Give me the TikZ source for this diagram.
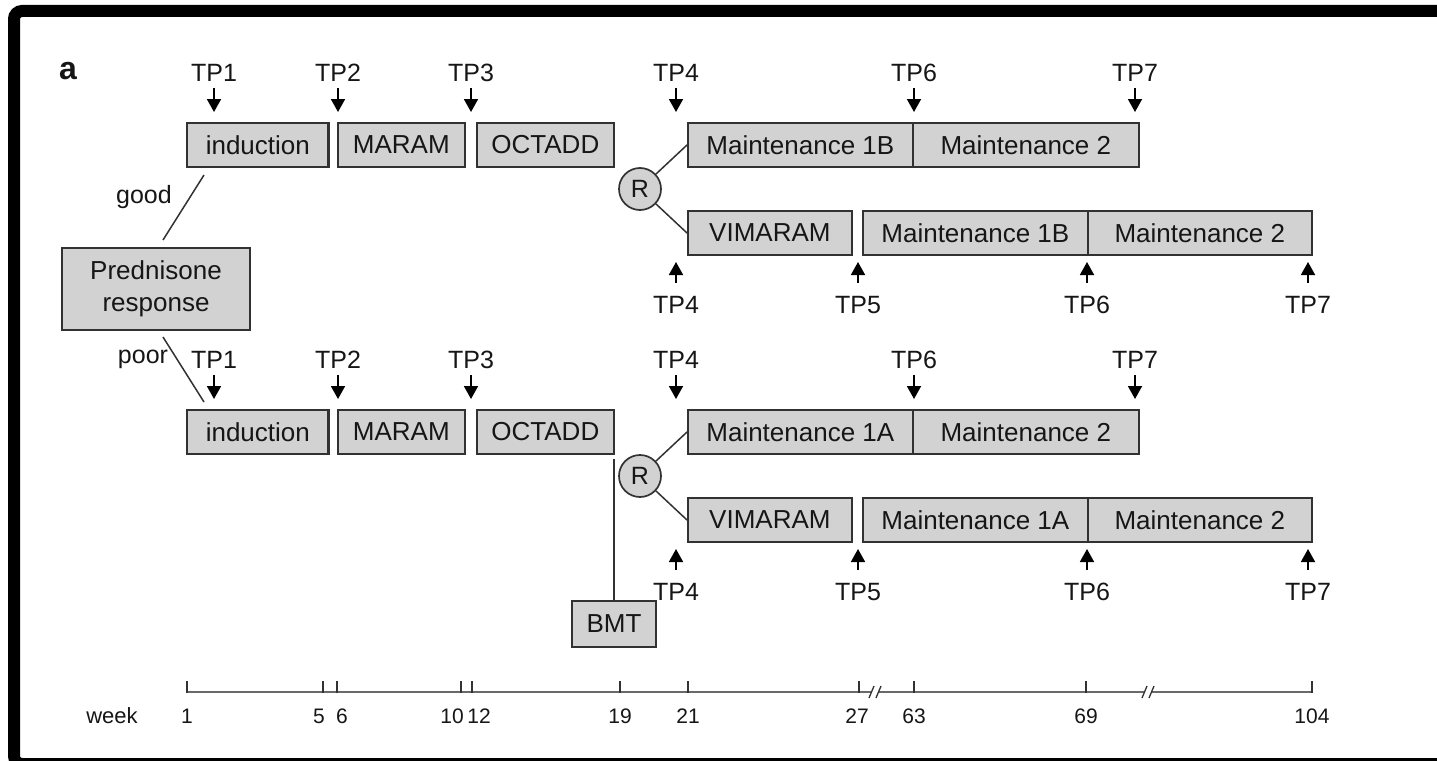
\documentclass[tikz,border=0pt]{standalone}
\usepackage{fontspec}
\setmainfont{Liberation Sans}
\usetikzlibrary{arrows.meta,calc}
\definecolor{boxfill}{RGB}{210,210,210}
\definecolor{edge}{RGB}{50,50,50}
\definecolor{ink}{RGB}{22,22,22}
\definecolor{axisgray}{RGB}{105,105,105}
\tikzset{
  phase/.style={draw=edge, fill=boxfill, line width=1.7, minimum height=44, inner sep=0,
    font=\fontsize{26}{26}\selectfont, text=ink},
  tplabel/.style={font=\fontsize{25}{25}\selectfont, text=ink, inner sep=0},
  downarrow/.style={draw=black, line width=1.8, shorten <=6, -{Triangle[length=13,width=14]}},
  uparrow/.style={draw=black, line width=1.8, shorten <=13, -{Triangle[length=13,width=14]}},
  link/.style={draw=edge, line width=1.5},
  rnode/.style={circle, draw=edge, fill=boxfill, line width=1.7, minimum size=42, inner sep=0,
    font=\fontsize{25}{25}\selectfont, text=ink},
  axislab/.style={font=\fontsize{21}{21}\selectfont, text=ink, inner sep=0},
  sidelab/.style={font=\fontsize{25}{25}\selectfont, text=ink, inner sep=0},
}
\begin{document}
\begin{tikzpicture}[x=1pt,y=-1pt]
\useasboundingbox (0,0) rectangle (1437,760);
\clip (0,0) rectangle (1437,760);
\fill[white] (0,0) rectangle (1437,760);
% frame
\draw[line width=12, rounded corners=8] (14,11) rectangle (1452,764);

\node[font=\fontsize{32}{32}\selectfont\bfseries, text=ink] (lab) at (68,71) {a};

% Prednisone response
\node[phase, minimum width=188, minimum height=82, align=center,
  font=\fontsize{26}{32}\selectfont] (pred) at (156,289) {Prednisone\\response};

\foreach \dy/\s/\v in {0/g/B,287/p/A}{
  % first row
  \node[phase, minimum width=142, anchor=west] (ind\s) at (186,145+\dy) {induction};
  \draw[edge, line width=3.2] ([xshift=-1.5]ind\s.north east) -- ([xshift=-1.5]ind\s.south east);
  \node[phase, minimum width=127, anchor=west] (mar\s) at (337,145+\dy) {MARAM};
  \node[phase, minimum width=137, anchor=west] (oct\s) at (476,145+\dy) {OCTADD};
  \node[phase, minimum width=225, anchor=west] (mo\s) at (687,145+\dy) {Maintenance 1\v};
  \node[phase, minimum width=226, anchor=west] (mt\s) at (912,145+\dy) {Maintenance 2};
  % second row
  \node[phase, minimum width=164, anchor=west] (vim\s) at (687,233+\dy) {VIMARAM};
  \node[phase, minimum width=225, anchor=west] (mol\s) at (862,233+\dy) {Maintenance 1\v};
  \node[phase, minimum width=224, anchor=west] (mtl\s) at (1087,233+\dy) {Maintenance 2};
  % randomisation
  \node[rnode] (r\s) at (640,189+\dy) {R};
  \draw[link] (r\s) -- (mo\s.west);
  \draw[link] (r\s) -- (vim\s.west);
  % time points above
  \foreach \x/\t in {214/1,338/2,471/3,676/4,914/6,1135/7}{
    \node[tplabel] (tpa\t\s) at (\x,73+\dy) {TP\t};
    \coordinate (tipa\t\s) at (\x,112+\dy);
    \draw[downarrow] (tpa\t\s) -- (tipa\t\s);
  }
  % time points below
  \foreach \x/\t in {676/4,858/5,1087/6,1308/7}{
    \node[tplabel] (tpb\t\s) at (\x,305+\dy) {TP\t};
    \coordinate (tipb\t\s) at (\x,262+\dy);
    \draw[uparrow] (tpb\t\s) -- (tipb\t\s);
  }
}

% branches from prednisone response
\coordinate (g1) at (163,240);
\coordinate (g2) at (204,175);
\draw[link] (g1) -- (g2);
\coordinate (p1) at (163,337);
\coordinate (p2) at (204,402);
\draw[link] (p1) -- (p2);
\node[sidelab] (good) at (144,197) {good};
\node[sidelab] (poor) at (143,359) {poor};

% BMT
\node[phase, minimum width=84, minimum height=46] (bmt) at (614,624) {BMT};
\coordinate (bmtup) at (614,459);
\draw[link] (bmt.north) -- (bmtup);

% week axis
\coordinate (ax0) at (187,692);
\coordinate (ax1) at (1312,692);
\draw[axisgray, line width=2.6] (ax0) -- (ax1);
\foreach \x in {187,323,337,461,472,620,688,859,914,1086,1312}{
  \draw[edge, line width=1.7] (\x,693) -- (\x,681);
}
\foreach \x in {875,1148}{
  \fill[white] (\x-4,686) rectangle (\x+4,698);
  \draw[edge, line width=1.3] (\x-6,698) -- (\x-1,686);
  \draw[edge, line width=1.3] (\x+1,698) -- (\x+6,686);
}
\node[axislab, font=\fontsize{22}{22}\selectfont] (week) at (112,716) {week};
\foreach \x/\n in {187/1,319/5,342/6,452/10,479/12,620/19,688/21,857/27,914/63,1086/69,1312/104}{
  \node[axislab] (w\n) at (\x,716) {\n};
}
\end{tikzpicture}
\end{document}
